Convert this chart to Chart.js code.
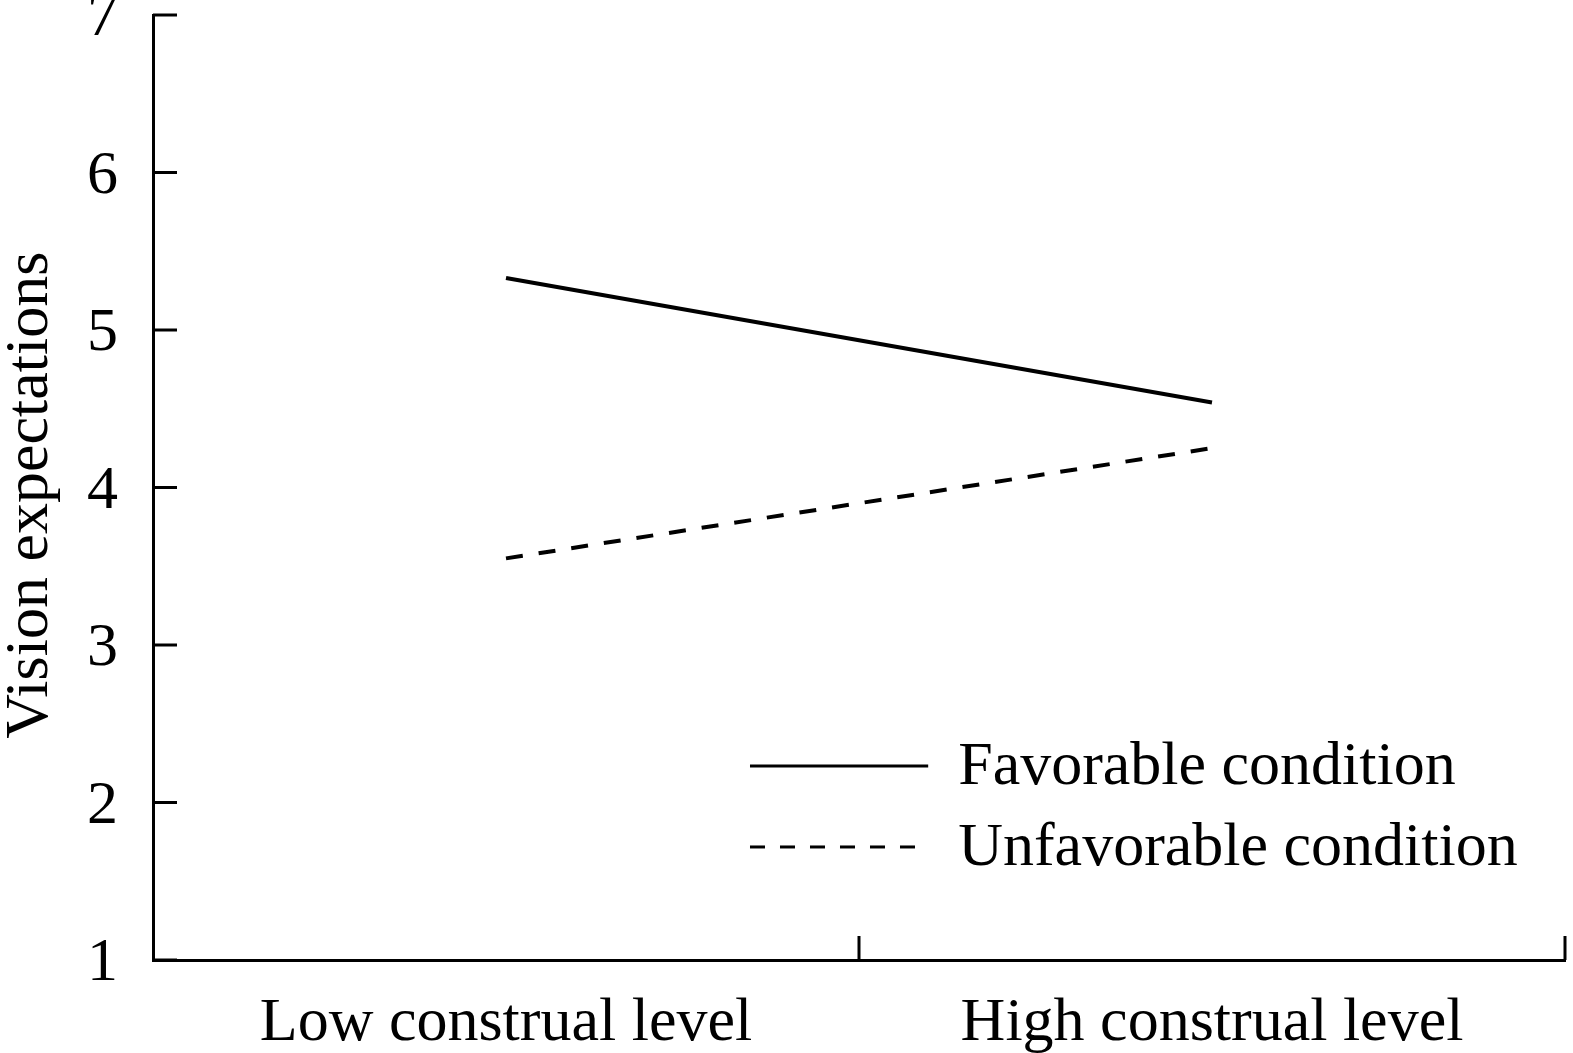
<!DOCTYPE html>
<html>
<head>
<meta charset="utf-8">
<script src="https://cdn.jsdelivr.net/npm/chart.js@4.4.1/dist/chart.umd.min.js"></script>
<style>
  html, body { margin: 0; padding: 0; background: #fff; }
  canvas { display: block; }
</style>
</head>
<body>
<canvas id="chart" width="1573" height="1053"></canvas>
<script>
// Data
const categories = ['Low construal level', 'High construal level'];
const favorable = [5.33, 4.54];
const unfavorable = [3.55, 4.25];
const yMin = 1;
const yMax = 7;
const seriesLabels = ['Favorable condition', 'Unfavorable condition'];

const FONT = '"Liberation Serif", "Times New Roman", serif';
Chart.defaults.font.family = FONT;
Chart.defaults.color = '#000';

// tick marks pointing into the plot, like the original figure
const inwardTicks = {
    id: 'inwardTicks',
    afterDraw(chart) {
        const ctx = chart.ctx;
        const area = chart.chartArea;
        const x = chart.scales.x;
        const y = chart.scales.y;
        const len = 24;
        ctx.save();
        ctx.strokeStyle = '#000';
        ctx.lineWidth = 3;
        y.ticks.forEach((t, i) => {
            const py = y.getPixelForTick(i);
            ctx.beginPath();
            ctx.moveTo(area.left, py);
            ctx.lineTo(area.left + len, py);
            ctx.stroke();
        });
        const step = x.getPixelForTick(1) - x.getPixelForTick(0);
        for (let i = 0; i < categories.length; i++) {
            const px = x.getPixelForTick(i) + step / 2;
            ctx.beginPath();
            ctx.moveTo(px, area.bottom);
            ctx.lineTo(px, area.bottom - len);
            ctx.stroke();
        }
        ctx.restore();
    }
};

// legend drawn inside the plot, lower right
const innerLegend = {
    id: 'innerLegend',
    afterDraw(chart) {
        const ctx = chart.ctx;
        const a = chart.chartArea;
        const w = a.right - a.left;
        const h = a.bottom - a.top;
        const x1 = a.left + w * 0.4228;
        const x2 = a.left + w * 0.549;
        const rows = [0.7947, 0.8804];
        ctx.save();
        chart.data.datasets.forEach((ds, i) => {
            const yy = a.top + h * rows[i];
            ctx.strokeStyle = ds.borderColor;
            ctx.lineWidth = 3;
            ctx.setLineDash(ds.borderDash ? [15, 15] : []);
            ctx.beginPath();
            ctx.moveTo(x1, yy);
            ctx.lineTo(x2, yy);
            ctx.stroke();
            ctx.setLineDash([]);
            ctx.fillStyle = '#000';
            ctx.font = '62px ' + FONT;
            ctx.textBaseline = 'middle';
            ctx.textAlign = 'left';
            ctx.fillText(ds.label, x2 + 30, yy + 2);
        });
        ctx.restore();
    }
};

const ctx = document.getElementById('chart').getContext('2d');
const chart = new Chart(ctx, {
    type: 'line',
    data: {
        labels: categories,
        datasets: [{
            label: seriesLabels[0],
            data: favorable,
            borderColor: '#000',
            borderWidth: 4,
            pointRadius: 0,
            fill: false,
            tension: 0
        }, {
            label: seriesLabels[1],
            data: unfavorable,
            borderColor: '#000',
            borderWidth: 4,
            borderDash: [17, 16],
            pointRadius: 0,
            fill: false,
            tension: 0
        }]
    },
    options: {
        responsive: false,
        animation: false,
        layout: { padding: { top: 15, right: 8, left: 0, bottom: 0 } },
        plugins: {
            legend: { display: false },
            tooltip: { enabled: false }
        },
        scales: {
            x: {
                offset: true,
                grid: { display: false, offset: true },
                border: { display: true, color: '#000', width: 3 },
                ticks: { font: { size: 62 }, padding: 19, color: '#000', maxRotation: 0 },
                afterFit(scale) { scale.height = 93; }
            },
            y: {
                min: yMin,
                max: yMax,
                grid: {
                    display: true,
                    drawOnChartArea: false,
                    drawTicks: true,
                    tickLength: 35,
                    color: 'rgba(0,0,0,0)'
                },
                border: { display: true, color: '#000', width: 3 },
                ticks: {
                    stepSize: 1,
                    // empty first line nudges the number a few px below the tick, as in the original
                    callback: (v) => ['', String(v)],
                    font: { size: 62, lineHeight: 0.13 },
                    padding: 0,
                    color: '#000'
                },
                title: {
                    display: true,
                    text: 'Vision expectations ',
                    font: { size: 62, lineHeight: 1.0 },
                    color: '#000',
                    padding: 0
                },
                afterFit(scale) { scale.width = 153; }
            }
        }
    },
    plugins: [inwardTicks, innerLegend]
});
</script>
</body>
</html>
